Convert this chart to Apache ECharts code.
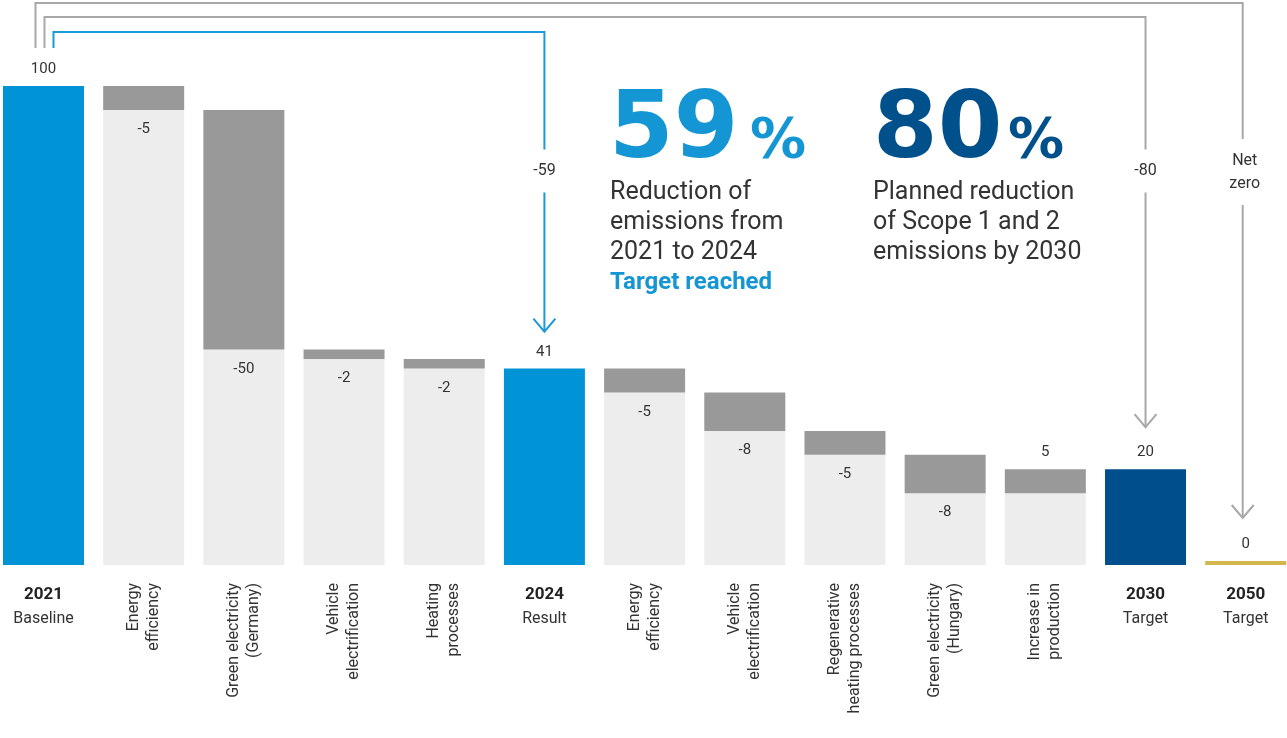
<!DOCTYPE html>
<html>
<head>
<meta charset="utf-8">
<script src="https://cdn.jsdelivr.net/npm/echarts@6/dist/echarts.min.js"></script>
<style>
html, body { margin: 0; padding: 0; background: #fff; }
#main { width: 1287px; height: 738px; }
</style>
</head>
<body>
<div id="main"></div>
<script>
// steps of the emissions bridge (index 2021 = 100)
var stepNames = ['Baseline', 'Energy\nefficiency', 'Green electricity\n(Germany)', 'Vehicle\nelectrification',
    'Heating\nprocesses', 'Result', 'Energy\nefficiency', 'Vehicle\nelectrification',
    'Regenerative\nheating processes', 'Green electricity\n(Hungary)', 'Increase in\nproduction', 'Target', 'Target'];
var stepYears = ['2021', '', '', '', '', '2024', '', '', '', '', '', '2030', '2050'];
var stepValues = [100, -5, -50, -2, -2, 41, -5, -8, -5, -8, 5, 20, 0];

var totalColor = { '2021': '#0093d5', '2024': '#0093d5', '2030': '#004f8c', '2050': '#d3b64c' };
var textFont = 'Roboto';

var totalData = [], restData = [], changeData = [];
var level = 0;
stepValues.forEach(function (v, i) {
    if (stepYears[i]) {
        level = v;
        totalData.push({ value: v, itemStyle: { color: totalColor[stepYears[i]] } });
        restData.push('-');
        changeData.push('-');
    } else {
        var low = v < 0 ? level + v : level;
        restData.push({ value: low, label: { show: v < 0, formatter: String(v) } });
        changeData.push({ value: Math.abs(v), label: { show: v > 0, formatter: String(v) } });
        totalData.push('-');
        level += v;
    }
});

var dom = document.getElementById('main');
var myChart = echarts.init(dom);

var option = {
    animation: false,
    grid: {
        left: -6.6,
        width: 1302.4,
        top: 86,
        bottom: 173,
        containLabel: false,
        outerBoundsMode: 'none'
    },
    xAxis: [
        {
            type: 'category',
            position: 'bottom',
            data: stepNames,
            axisLine: { show: false },
            axisTick: { show: false },
            axisLabel: {
                interval: 0,
                margin: 18,
                formatter: function (v, i) {
                    return stepYears[i] ? '{y|' + stepYears[i] + '}\n{n|' + v + '}' : '';
                },
                rich: {
                    y: { fontFamily: textFont, fontWeight: 'bold', fontSize: 17, color: '#222', lineHeight: 24 },
                    n: { fontFamily: textFont, fontSize: 16, color: '#333', lineHeight: 24 }
                }
            }
        },
        {
            type: 'category',
            position: 'bottom',
            offset: 0,
            data: stepNames,
            axisLine: { show: false },
            axisTick: { show: false },
            axisLabel: {
                interval: 0,
                rotate: 90,
                margin: 18,
                fontFamily: textFont,
                fontSize: 16,
                lineHeight: 20,
                color: '#333',
                formatter: function (v, i) {
                    return stepYears[i] ? '' : v;
                }
            }
        }
    ],
    yAxis: {
        type: 'value',
        min: 0,
        max: 100,
        show: false,
        splitLine: { show: false }
    },
    series: [
        {
            name: 'total',
            type: 'bar',
            stack: 'w',
            barWidth: 81,
            barMinHeight: 4,
            data: totalData,
            label: {
                show: true,
                position: 'top',
                distance: 9,
                fontFamily: textFont,
                fontSize: 15,
                color: '#333'
            }
        },
        {
            name: 'rest',
            type: 'bar',
            stack: 'w',
            barWidth: 81,
            itemStyle: { color: '#ededed' },
            data: restData,
            label: {
                position: 'insideTop',
                distance: 12,
                fontFamily: textFont,
                fontSize: 15,
                color: '#333'
            }
        },
        {
            name: 'change',
            type: 'bar',
            stack: 'w',
            barWidth: 81,
            itemStyle: { color: '#999999' },
            data: changeData,
            label: {
                position: 'top',
                distance: 9,
                fontFamily: textFont,
                fontSize: 15,
                color: '#333'
            }
        }
    ]
};

if (option && typeof option === "object") {
    myChart.setOption(option, true);
}

// connectors drawn from the bar positions
function px(i, v) {
    return myChart.convertToPixel({ gridIndex: 0 }, [i, v]);
}
var gray = '#a8a8a8', blue = '#1a9ad6';
var start = px(0, 100);
var end2024 = px(5, 41), end2030 = px(11, 20), end2050 = px(12, 0);

function connector(x0, yTop, x1, tip, color) {
    return [
        {
            type: 'polyline',
            shape: { points: [[x0, 48], [x0, yTop], [x1, yTop], [x1, tip]] },
            style: { stroke: color, lineWidth: 2, fill: null },
            z: 10
        },
        {
            type: 'polyline',
            shape: { points: [[x1 - 11, tip - 13], [x1, tip], [x1 + 11, tip - 13]] },
            style: { stroke: color, lineWidth: 2, fill: null },
            z: 10
        }
    ];
}
function tag(x, y, text) {
    return {
        type: 'text',
        x: x,
        y: y,
        z: 20,
        style: {
            text: text,
            fontFamily: textFont,
            fontSize: 16,
            lineHeight: 23,
            fill: '#333',
            align: 'center',
            verticalAlign: 'middle',
            backgroundColor: '#fff',
            padding: [10, 4]
        }
    };
}

var graphics = []
    .concat(connector(start[0] - 8, 3, end2050[0] - 3, end2050[1] - 47, gray))
    .concat(connector(start[0] + 1, 17, end2030[0], end2030[1] - 42, gray))
    .concat(connector(start[0] + 10, 32, end2024[0], end2024[1] - 37, blue));

graphics.push(tag(end2024[0], 171, '-59'));
graphics.push(tag(end2030[0], 171, '-80'));
graphics.push(tag(end2050[0] - 1, 172, 'Net\nzero'));

// big headline figures
graphics.push({
    type: 'text', x: 609, y: 133,
    style: { text: '59', fontFamily: 'DejaVu Sans', fontWeight: 'bold', fontSize: 93, fill: '#1496d4', verticalAlign: 'middle' }
});
graphics.push({
    type: 'text', x: 750, y: 142,
    style: { text: '%', fontFamily: 'DejaVu Sans', fontWeight: 'bold', fontSize: 56, fill: '#1496d4', verticalAlign: 'middle' }
});
graphics.push({
    type: 'text', x: 873, y: 133,
    style: { text: '80', fontFamily: 'DejaVu Sans', fontWeight: 'bold', fontSize: 93, fill: '#00508c', verticalAlign: 'middle' }
});
graphics.push({
    type: 'text', x: 1008, y: 142,
    style: { text: '%', fontFamily: 'DejaVu Sans', fontWeight: 'bold', fontSize: 56, fill: '#00508c', verticalAlign: 'middle' }
});
graphics.push({
    type: 'text', x: 610, y: 178,
    style: {
        text: '{n|Reduction of}\n{n|emissions from}\n{n|2021 to 2024}\n{t|Target reached}',
        rich: {
            n: { fontFamily: textFont, fontSize: 25, lineHeight: 30, fill: '#333' },
            t: { fontFamily: textFont, fontSize: 24, lineHeight: 30, fontWeight: 'bold', fill: '#1496d4' }
        }
    }
});
graphics.push({
    type: 'text', x: 873, y: 178,
    style: {
        text: 'Planned reduction\nof Scope 1 and 2\nemissions by 2030',
        fontFamily: textFont, fontSize: 25, lineHeight: 30, fill: '#333'
    }
});

myChart.setOption({ graphic: graphics });
</script>
</body>
</html>
